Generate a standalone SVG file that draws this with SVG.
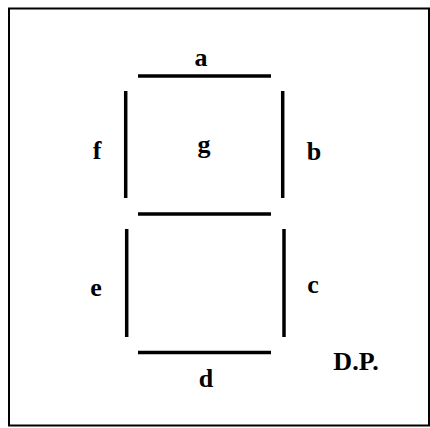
<svg xmlns="http://www.w3.org/2000/svg" width="430" height="428" viewBox="0 0 430 428">
<style>
.seg{stroke:#000;stroke-width:3.5;fill:none}
.lbl{font-family:"Liberation Serif","Times New Roman",serif;font-weight:bold;font-size:26px;fill:#000;text-anchor:middle}
</style>
<rect x="0" y="0" width="430" height="428" fill="#fff"/>
<rect x="9" y="8.5" width="420" height="417" fill="none" stroke="#000" stroke-width="2"/>
<g id="connectors">
<line id="seg-a" class="seg" x1="138" y1="76" x2="271" y2="76"/>
<line id="seg-g" class="seg" x1="138" y1="214" x2="271" y2="214"/>
<line id="seg-d" class="seg" x1="138" y1="352.5" x2="271" y2="352.5"/>
<line id="seg-f" class="seg" x1="125.7" y1="91" x2="125.7" y2="198"/>
<line id="seg-b" class="seg" x1="282.7" y1="91" x2="282.7" y2="198"/>
<line id="seg-e" class="seg" x1="126.7" y1="229" x2="126.7" y2="337"/>
<line id="seg-c" class="seg" x1="284" y1="229" x2="284" y2="337"/>
</g>
<g id="label-a"><text class="lbl" x="201" y="66">a</text></g>
<g id="label-f"><text class="lbl" x="97" y="159">f</text></g>
<g id="label-g"><text class="lbl" x="204" y="153">g</text></g>
<g id="label-b"><text class="lbl" x="314" y="160">b</text></g>
<g id="label-e"><text class="lbl" x="96" y="296">e</text></g>
<g id="label-c"><text class="lbl" x="313" y="293">c</text></g>
<g id="label-d"><text class="lbl" x="206" y="387">d</text></g>
<g id="label-dp"><text class="lbl" x="356" y="370">D.P.</text></g>
</svg>
